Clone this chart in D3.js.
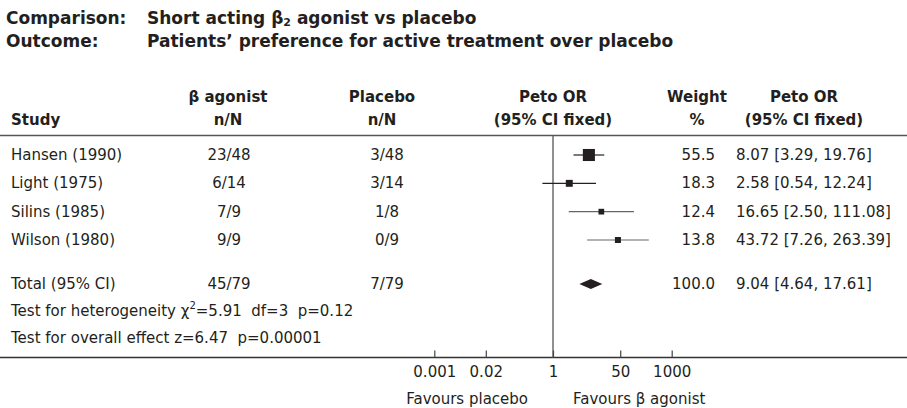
<!DOCTYPE html>
<html><head><meta charset="utf-8">
<script src="https://cdn.jsdelivr.net/npm/d3@7"></script>
<style>
html,body{margin:0;padding:0;background:#fff;}
svg{display:block;}
text{font-family:"DejaVu Sans",sans-serif;fill:#231f20;}
</style></head>
<body><svg id="c" width="907" height="408"></svg>
<script>
// ---- data ----
const comparisonLabel = "Short acting β";
const outcomeLabel = "Patients’ preference for active treatment over placebo";
const studies = ["Hansen (1990)", "Light (1975)", "Silins (1985)", "Wilson (1980)"];
const agonistNN = ["23/48", "6/14", "7/9", "9/9"];
const placeboNN = ["3/48", "3/14", "1/8", "0/9"];
const petoOR = [8.07, 2.58, 16.65, 43.72];
const ciLow = [3.29, 0.54, 2.50, 7.26];
const ciHigh = [19.76, 12.24, 111.08, 263.39];
const weights = [55.5, 18.3, 12.4, 13.8];
const totalLabel = "Total (95% CI)";
const totalAgonist = "45/79";
const totalPlacebo = "7/79";
const totalOR = 9.04, totalLow = 4.64, totalHigh = 17.61, totalWeight = 100.0;
const axisTicks = [0.001, 0.02, 1, 50, 1000];
const tickLabels = ["0.001", "0.02", "1", "50", "1000"];

// ---- drawing ----
const svg = d3.select("#c");
const W = 907;
const fs = 15;
const x = d3.scaleLog().domain([0.001, 1000]).range([434.3, 671.7]);
const y = d3.scaleLinear().domain([0, 3]).range([155, 240]);
const yTotal = 284, yHet = 311, yOverall = 338, yAxis = 357.5, yTop = 135.5;
const boxSize = d3.scaleSqrt().domain([0, 100]).range([0, 16.2]);
const fmt1 = d3.format(".1f"), fmt2 = d3.format(".2f");

// titles
const tfs = 17;
const t1 = svg.append("text").attr("x", 6).attr("y", 18).attr("dominant-baseline", "central")
  .style("font-weight", "700").style("font-size", tfs + "px");
t1.append("tspan").text("Comparison:");
t1.append("tspan").attr("x", 147).text(comparisonLabel);
t1.append("tspan").attr("dy", 4).style("font-size", "11px").text("2");
t1.append("tspan").attr("dy", -4).text(" agonist vs placebo");
const t2 = svg.append("text").attr("x", 6).attr("y", 41).attr("dominant-baseline", "central")
  .style("font-weight", "700").style("font-size", tfs + "px");
t2.append("tspan").text("Outcome:");
t2.append("tspan").attr("x", 147).text(outcomeLabel);

// headers
const hdr = [
  {x: 11, a: "start", l: ["", "Study"]},
  {x: 228, a: "middle", l: ["β agonist", "n/N"]},
  {x: 382, a: "middle", l: ["Placebo", "n/N"]},
  {x: x(1), a: "middle", l: ["Peto OR", "(95% CI fixed)"]},
  {x: 697, a: "middle", l: ["Weight", "%"]},
  {x: 804, a: "middle", l: ["Peto OR", "(95% CI fixed)"]}
];
hdr.forEach(h => {
  h.l.forEach((s, i) => {
    svg.append("text").attr("x", h.x).attr("y", 97 + i * 23).attr("dominant-baseline", "central")
      .attr("text-anchor", h.a).style("font-weight", "700").style("font-size", fs + "px").text(s);
  });
});

// rules
svg.append("line").attr("x1", 0).attr("x2", W).attr("y1", yTop).attr("y2", yTop)
  .attr("stroke", "#555").attr("stroke-width", 1.5);
svg.append("line").attr("x1", 0).attr("x2", W).attr("y1", yAxis).attr("y2", yAxis)
  .attr("stroke", "#333").attr("stroke-width", 1.3);
svg.append("line").attr("x1", x(1)).attr("x2", x(1)).attr("y1", yTop).attr("y2", yAxis)
  .attr("stroke", "#555").attr("stroke-width", 1.3);

// axis
const axis = d3.axisBottom(x).tickValues(axisTicks).tickFormat((d, i) => tickLabels[i]).tickSizeInner(-7).tickSizeOuter(0).tickPadding(9);
const gA = svg.append("g").attr("transform", `translate(0,${yAxis})`).call(axis);
gA.select(".domain").remove();
gA.selectAll(".tick line").attr("stroke", "#444").attr("stroke-width", 1.2);
gA.selectAll(".tick text").style("font-size", fs + "px").style("font-family", '"DejaVu Sans",sans-serif').attr("fill", "#231f20");
svg.append("text").attr("x", x(1) - 25).attr("y", 399).attr("dominant-baseline", "central")
  .attr("text-anchor", "end").style("font-size", fs + "px").text("Favours placebo");
svg.append("text").attr("x", x(1) + 20).attr("y", 399).attr("dominant-baseline", "central")
  .attr("text-anchor", "start").style("font-size", fs + "px").text("Favours β agonist");

// rows
const rows = studies.map((s, i) => ({s, a: agonistNN[i], p: placeboNN[i], or: petoOR[i], lo: ciLow[i], hi: ciHigh[i], w: weights[i], y: y(i)}));
const txt = (xx, yy, s, anchor) => svg.append("text").attr("x", xx).attr("y", yy)
  .attr("dominant-baseline", "central").attr("text-anchor", anchor).style("font-size", fs + "px").text(s);
rows.forEach(r => {
  txt(11, r.y, r.s, "start");
  txt(229, r.y, r.a, "middle");
  txt(387, r.y, r.p, "middle");
  txt(715, r.y, fmt1(r.w), "end");
  txt(736, r.y, `${fmt2(r.or)} [${fmt2(r.lo)}, ${fmt2(r.hi)}]`, "start");
});
svg.selectAll("line.ci").data(rows).join("line").attr("class", "ci")
  .attr("x1", d => x(d.lo)).attr("x2", d => x(d.hi)).attr("y1", d => d.y).attr("y2", d => d.y)
  .attr("stroke", (d, i) => i < 2 ? "#222" : "#666").attr("stroke-width", 1.2);
svg.selectAll("rect.box").data(rows).join("rect").attr("class", "box")
  .attr("x", d => x(d.or) - boxSize(d.w) / 2).attr("y", d => d.y - boxSize(d.w) / 2)
  .attr("width", d => boxSize(d.w)).attr("height", d => boxSize(d.w)).attr("fill", "#231f20");

// total
txt(11, yTotal, totalLabel, "start");
txt(229, yTotal, totalAgonist, "middle");
txt(387, yTotal, totalPlacebo, "middle");
txt(715, yTotal, fmt1(totalWeight), "end");
txt(736, yTotal, `${fmt2(totalOR)} [${fmt2(totalLow)}, ${fmt2(totalHigh)}]`, "start");
svg.append("path").attr("d", `M${x(totalLow)},${yTotal}L${x(totalOR)},${yTotal - 5}L${x(totalHigh)},${yTotal}L${x(totalOR)},${yTotal + 5}Z`)
  .attr("fill", "#231f20");

// tests
const het = svg.append("text").attr("x", 11).attr("y", yHet).attr("dominant-baseline", "central")
  .style("font-size", fs + "px").attr("xml:space", "preserve").style("white-space", "pre");
het.append("tspan").text("Test for heterogeneity χ");
het.append("tspan").attr("dy", -6).style("font-size", "10px").text("2");
het.append("tspan").attr("dy", 6).text("=5.91  df=3  p=0.12");
svg.append("text").attr("x", 11).attr("y", yOverall).attr("dominant-baseline", "central").style("font-size", fs + "px")
  .attr("xml:space", "preserve").style("white-space", "pre").text("Test for overall effect z=6.47  p=0.00001");
</script></body></html>
